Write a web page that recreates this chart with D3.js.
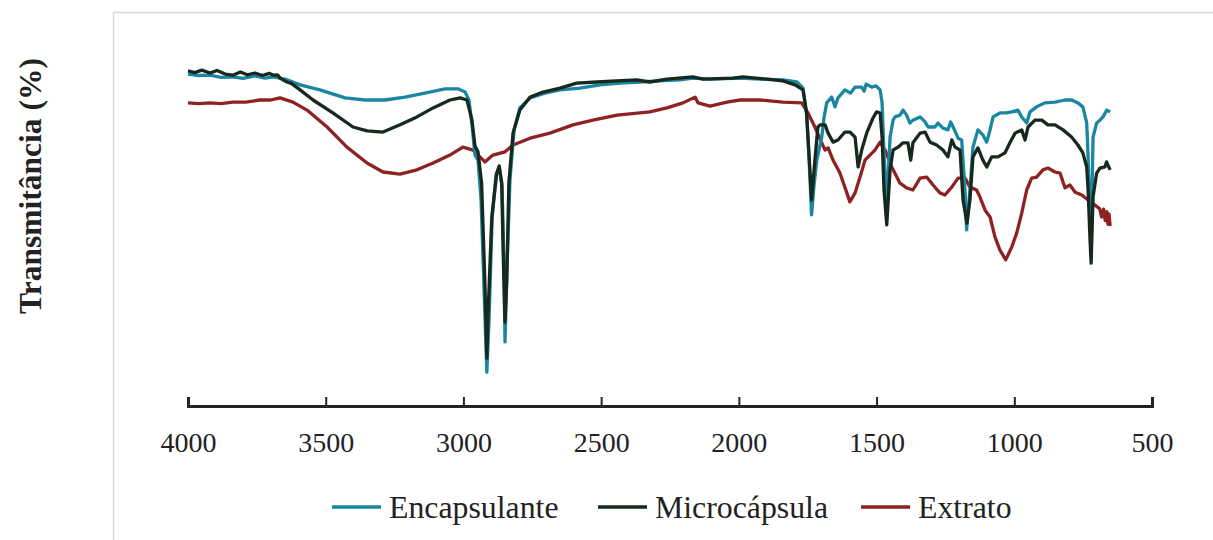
<!DOCTYPE html>
<html>
<head>
<meta charset="utf-8">
<script src="https://cdn.jsdelivr.net/npm/d3@7"></script>
<style>
  body { margin: 0; background: #fff; }
  svg text { font-family: "Liberation Serif", "Times New Roman", serif; fill: #222; }
</style>
</head>
<body>
<div id="chart"></div>
<script>
// FTIR spectra: [wavenumber (cm-1), transmittance (%)]
var encapsulante = [
  [4000, 92.2], [3960, 91.8], [3920, 91.9], [3880, 91.3], [3837, 91.4], [3800, 91.0], [3757, 91.7],
  [3720, 91.1], [3691, 91.4], [3648, 90.8], [3593, 89.2], [3521, 87.8], [3430, 85.6], [3357, 85.0],
  [3285, 85.0], [3212, 85.8], [3140, 86.9], [3067, 88.1], [3020, 88.1], [2994, 87.2], [2980, 85.0],
  [2969, 78.1], [2958, 69.7], [2947, 68.3], [2936, 57.2], [2925, 32.2], [2915, 9.4], [2907, 23.9],
  [2896, 51.7], [2882, 64.2], [2870, 66.1], [2860, 61.4], [2853, 40.6], [2849, 17.8], [2842, 37.8],
  [2831, 62.8], [2816, 76.7], [2795, 82.8], [2758, 85.6], [2704, 86.9], [2649, 87.8], [2577, 88.3],
  [2504, 89.2], [2432, 89.7], [2359, 90.0], [2286, 90.3], [2214, 90.6], [2167, 91.1], [2105, 90.8],
  [1996, 91.1], [1923, 90.8], [1840, 90.6], [1789, 90.0], [1767, 88.3], [1754, 80.8], [1745, 68.3],
  [1736, 53.1], [1727, 61.4], [1717, 68.3], [1699, 74.7], [1691, 80.0], [1681, 84.2], [1663, 85.8],
  [1651, 83.1], [1640, 85.6], [1615, 87.8], [1595, 86.9], [1578, 88.6], [1554, 88.6], [1545, 87.5],
  [1538, 89.4], [1518, 88.6], [1502, 88.9], [1487, 87.8], [1480, 84.2], [1473, 70.3], [1463, 55.8],
  [1451, 74.7], [1440, 79.4], [1433, 80.3], [1415, 80.8], [1404, 82.2], [1391, 80.8], [1379, 78.6],
  [1368, 79.4], [1342, 80.3], [1324, 78.9], [1313, 77.5], [1288, 77.5], [1277, 78.6], [1259, 77.2],
  [1241, 76.7], [1231, 78.9], [1222, 77.5], [1204, 74.4], [1191, 73.9], [1179, 60.0], [1173, 48.9],
  [1161, 60.0], [1150, 71.9], [1132, 76.7], [1114, 75.3], [1100, 73.3], [1088, 76.7], [1077, 80.3],
  [1052, 81.4], [1028, 81.4], [1009, 81.7], [987, 82.2], [973, 80.3], [955, 78.6], [943, 81.7],
  [919, 83.1], [889, 84.2], [852, 84.4], [816, 85.0], [792, 85.0], [769, 84.2], [751, 83.1],
  [737, 78.6], [732, 69.2], [727, 57.2], [722, 48.9], [718, 58.6], [714, 74.7], [701, 78.6],
  [689, 79.4], [678, 80.3], [664, 82.2], [652, 81.7]
];

var microcapsula = [
  [4000, 93.1], [3975, 92.6], [3950, 93.3], [3920, 92.5], [3895, 93.2], [3865, 92.2], [3837, 91.9],
  [3810, 92.8], [3785, 92.0], [3757, 92.5], [3730, 91.8], [3705, 92.4], [3691, 91.9], [3675, 92.0],
  [3666, 91.1], [3655, 90.6], [3641, 90.0], [3625, 89.6], [3593, 87.8], [3546, 85.0], [3474, 81.4],
  [3401, 77.5], [3350, 76.4], [3292, 76.1], [3230, 78.1], [3169, 80.3], [3110, 82.8], [3049, 85.0],
  [3012, 85.6], [2987, 85.0], [2969, 79.4], [2958, 72.2], [2947, 70.6], [2934, 61.9], [2922, 34.2],
  [2915, 13.3], [2911, 24.7], [2897, 52.5], [2879, 64.7], [2870, 66.7], [2861, 61.9], [2856, 43.3],
  [2849, 23.3], [2843, 34.2], [2835, 61.9], [2820, 75.8], [2795, 82.2], [2758, 85.8], [2711, 87.2],
  [2649, 88.3], [2589, 89.7], [2516, 90.0], [2444, 90.3], [2371, 90.6], [2323, 90.0], [2262, 90.8],
  [2167, 91.4], [2130, 90.8], [2021, 91.1], [1985, 91.4], [1899, 90.8], [1840, 90.3], [1796, 89.2],
  [1767, 87.8], [1754, 81.4], [1742, 65.6], [1736, 57.2], [1724, 68.3], [1713, 77.5], [1705, 78.1],
  [1687, 78.1], [1676, 75.8], [1658, 73.3], [1640, 73.9], [1615, 76.1], [1597, 76.1], [1578, 74.7],
  [1567, 66.4], [1554, 71.1], [1536, 75.8], [1513, 80.0], [1500, 81.7], [1487, 81.4], [1480, 74.7],
  [1473, 60.0], [1463, 50.3], [1451, 65.6], [1440, 71.1], [1422, 71.9], [1404, 73.1], [1386, 73.1],
  [1376, 68.3], [1368, 73.1], [1342, 75.8], [1324, 76.1], [1306, 73.3], [1282, 72.5], [1259, 71.1],
  [1241, 69.2], [1227, 73.9], [1215, 71.9], [1197, 71.1], [1186, 57.2], [1172, 50.8], [1161, 57.2],
  [1150, 69.2], [1132, 71.7], [1114, 68.3], [1100, 66.4], [1082, 69.2], [1059, 69.2], [1034, 70.3],
  [1016, 73.1], [997, 75.8], [973, 76.7], [961, 73.9], [950, 77.5], [925, 79.4], [900, 79.4],
  [878, 78.1], [852, 78.1], [823, 76.7], [792, 74.7], [769, 72.5], [751, 70.3], [737, 66.4],
  [732, 60.0], [725, 46.1], [721, 39.7], [714, 58.1], [701, 64.7], [689, 66.1], [671, 66.4],
  [665, 67.8], [652, 65.6]
];

var extrato = [
  [4000, 84.2], [3960, 84.0], [3920, 84.2], [3880, 84.0], [3837, 84.4], [3790, 84.4], [3739, 85.0],
  [3700, 85.0], [3666, 85.6], [3619, 84.4], [3568, 82.2], [3495, 77.5], [3423, 71.9], [3350, 67.5],
  [3292, 65.0], [3230, 64.4], [3169, 65.6], [3110, 67.5], [3049, 69.7], [3002, 71.9], [2965, 71.1],
  [2922, 67.8], [2893, 69.7], [2849, 70.6], [2820, 72.5], [2758, 74.4], [2686, 75.8], [2602, 78.1],
  [2530, 79.4], [2442, 80.8], [2323, 81.7], [2261, 82.8], [2203, 84.2], [2159, 85.8], [2148, 84.2],
  [2105, 83.3], [2043, 84.4], [1996, 85.0], [1923, 85.0], [1840, 84.4], [1772, 84.2], [1749, 81.4],
  [1724, 77.5], [1699, 73.1], [1687, 71.1], [1676, 71.7], [1658, 68.3], [1633, 64.7], [1608, 59.2],
  [1597, 56.7], [1578, 59.2], [1560, 63.6], [1542, 68.3], [1524, 69.7], [1506, 71.1], [1487, 73.3],
  [1469, 71.1], [1445, 66.4], [1415, 61.9], [1391, 60.6], [1368, 60.0], [1342, 63.3], [1318, 63.6],
  [1295, 61.4], [1270, 59.2], [1252, 58.6], [1227, 60.8], [1204, 63.3], [1179, 63.3], [1161, 60.8],
  [1137, 60.0], [1125, 58.1], [1106, 54.4], [1088, 52.5], [1070, 46.9], [1052, 43.3], [1031, 40.6],
  [1009, 44.2], [991, 48.1], [973, 53.6], [955, 60.0], [937, 63.3], [919, 63.6], [896, 65.6],
  [878, 66.1], [852, 65.0], [834, 64.7], [816, 60.6], [798, 61.4], [779, 59.4], [755, 58.6],
  [732, 57.2], [707, 55.8], [690, 54.8], [683, 52.5], [676, 54.7], [670, 51.5], [664, 54.0],
  [660, 50.5], [656, 53.3], [652, 50.0]
];

var seriesNames = ["Encapsulante", "Microcápsula", "Extrato"];
var seriesColors = ["#1b86a2", "#16291c", "#8e2222"];
var allSeries = [encapsulante, microcapsula, extrato];
var xTicks = [4000, 3500, 3000, 2500, 2000, 1500, 1000, 500];

var svgWidth = 1213;
var svgHeight = 540;

var svg = d3.select("#chart")
  .append("svg")
  .attr("width", svgWidth)
  .attr("height", svgHeight);

// chart area frame
svg.append("rect")
  .attr("x", 113.5)
  .attr("y", 12.5)
  .attr("width", 1120)
  .attr("height", 560)
  .attr("fill", "none")
  .attr("stroke", "#d9d9d9")
  .attr("stroke-width", 1.5);

var xScale = d3.scaleLinear()
  .domain([4000, 500])
  .range([188, 1152]);

var yScale = d3.scaleLinear()
  .domain([0, 100])
  .range([406, 46]);

// spectra, drawn so the black one sits over the teal one
var line = d3.line()
  .x(d => xScale(d[0]))
  .y(d => yScale(d[1]));

[2, 0, 1].forEach(function(i) {
  svg.append("path")
    .datum(allSeries[i])
    .attr("fill", "none")
    .attr("stroke", seriesColors[i])
    .attr("stroke-width", 3.3)
    .attr("stroke-linejoin", "round")
    .attr("d", line);
});

// x axis with inward ticks
var bottomAxis = d3.axisBottom(xScale)
  .tickValues(xTicks)
  .tickSizeInner(-9)
  .tickSizeOuter(-9)
  .tickPadding(26)
  .tickFormat(d3.format("d"));

var axisG = svg.append("g")
  .attr("transform", "translate(0, 406)")
  .call(bottomAxis);

axisG.select(".domain")
  .attr("stroke", "#222")
  .attr("stroke-width", 3);
axisG.selectAll(".tick line")
  .attr("stroke", "#222")
  .attr("stroke-width", 2);
axisG.selectAll(".tick text")
  .attr("font-size", 28)
  .attr("font-family", "Liberation Serif")
  .attr("fill", "#222");

// y axis label
svg.append("text")
  .attr("transform", "translate(41, 186) rotate(-90)")
  .attr("text-anchor", "middle")
  .attr("font-size", 31.5)
  .attr("font-weight", "bold")
  .text("Transmitância (%)");

// legend
var legendX = [332, 598, 861];
var legend = svg.selectAll(".legend")
  .data(seriesNames)
  .enter()
  .append("g")
  .attr("class", "legend")
  .attr("transform", (d, i) => "translate(" + legendX[i] + ", 507)");

legend.append("line")
  .attr("x1", 0)
  .attr("x2", 49)
  .attr("stroke", (d, i) => seriesColors[i])
  .attr("stroke-width", 3.3);

legend.append("text")
  .attr("x", 57)
  .attr("dy", "0.33em")
  .attr("font-size", 31.8)
  .text(d => d);
</script>
</body>
</html>
